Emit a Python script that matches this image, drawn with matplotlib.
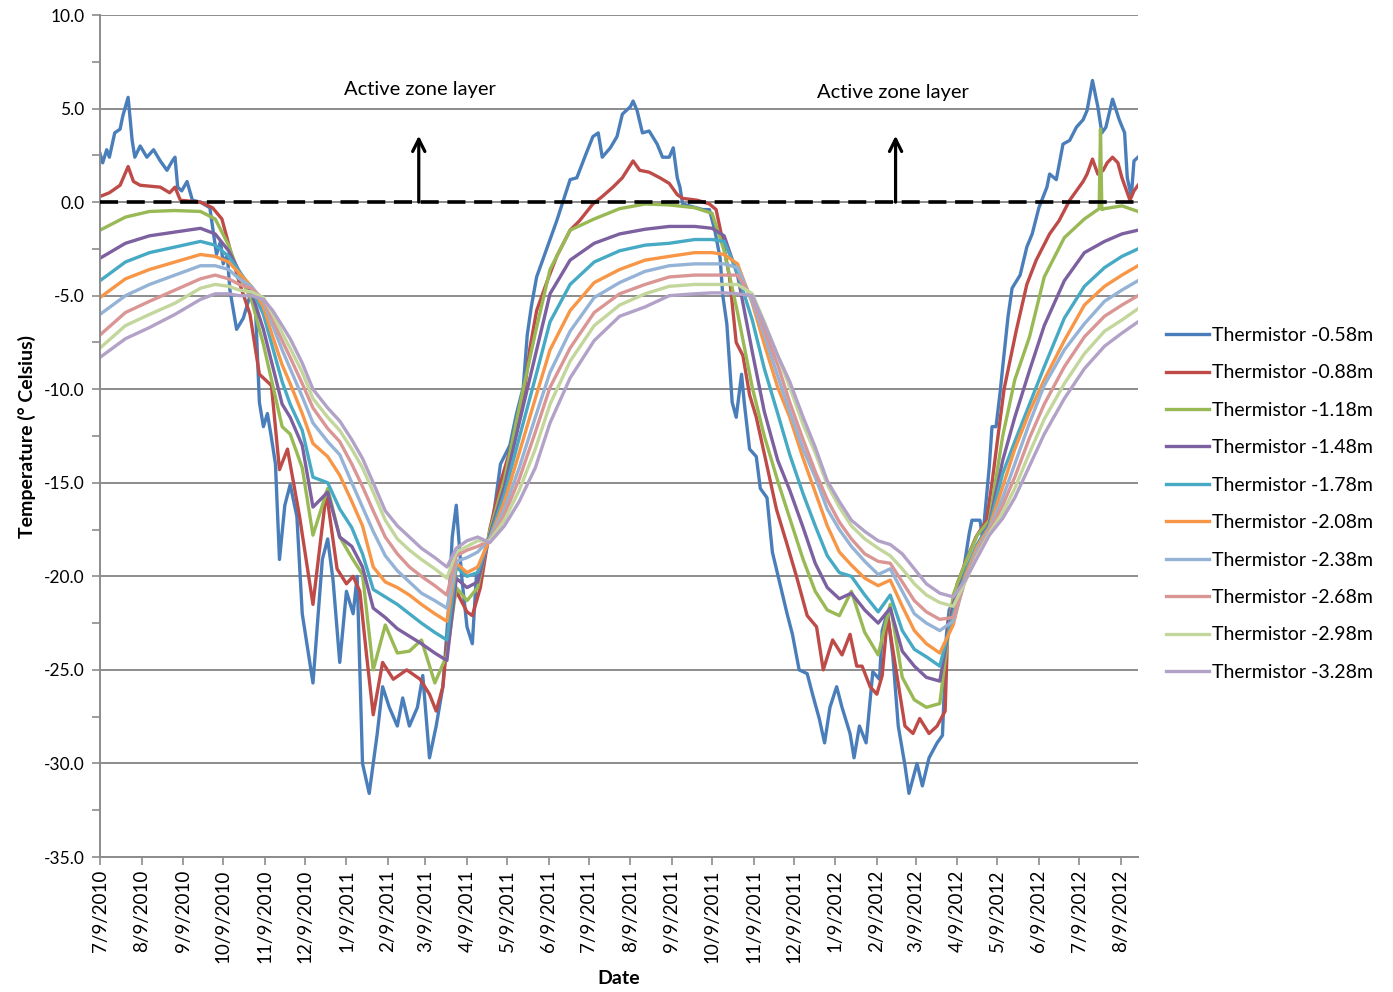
import numpy as np
import pandas as pd
import matplotlib
matplotlib.use("Agg")
import matplotlib.pyplot as plt

plt.rcParams['font.family'] = ['Lato', 'DejaVu Sans']

START = pd.Timestamp("2010-07-09")
END_DAY = 775

# ---- thermistor -0.58m (days since 7/9/2010, deg C) ----
blue_days = [0, 2, 5, 7, 11, 15, 17, 21, 24, 26, 30, 35, 40, 45, 50, 54, 56, 58, 61, 65,
             69, 75, 82, 84, 87, 90, 92, 95, 97, 102, 107, 112, 116, 119, 122, 125, 128, 131,
             134, 138, 142, 147, 151, 159, 164, 166, 170, 174, 179, 184, 189, 192, 196, 201,
             207, 211, 216, 222, 226, 231, 237, 241, 246, 251, 256, 260, 263, 266, 270, 274,
             278, 281, 286, 293, 299, 306, 311, 316, 319, 322, 326, 334, 341, 346, 351, 356,
             363, 368, 372, 375, 381, 386, 390, 396, 398, 401, 405, 410, 416, 420, 425, 428,
             431, 433, 435, 450, 455, 459, 463, 465, 468, 472, 475, 479, 481, 485, 490, 493,
             498, 502, 507, 513, 517, 522, 528, 532, 537, 541, 545, 550, 554, 560, 563, 567,
             572, 577, 582, 584, 588, 592, 596, 601, 604, 610, 614, 619, 625, 629, 632, 634,
             640, 644, 649, 651, 657, 659, 664, 666, 669, 672, 674, 678, 681, 687, 692, 696,
             701, 707, 709, 714, 719, 724, 729, 734, 737, 741, 745, 748, 751, 756, 761, 765,
             767, 770, 772, 775]
blue_vals = [2.6, 2.1, 2.8, 2.4, 3.7, 3.9, 4.6, 5.6, 3.3, 2.4, 3.0, 2.4, 2.8, 2.2, 1.7, 2.2,
             2.4, 0.8, 0.6, 1.1, 0.1, 0.0, -0.3, -1.3, -2.8, -2.1, -3.3, -2.8, -4.7, -6.8, -6.2,
             -5.0, -5.5, -10.7, -12.0, -11.3, -12.6, -14.0, -19.1, -16.2, -15.1, -16.8, -22.0,
             -25.7, -21.0, -19.1, -18.0, -20.2, -24.6, -20.8, -22.0, -20.0, -30.0, -31.6, -28.4,
             -25.9, -27.0, -28.0, -26.5, -28.0, -27.0, -25.3, -29.7, -28.0, -25.9, -22.0, -17.9,
             -16.2, -20.0, -22.7, -23.6, -20.0, -19.0, -17.2, -14.0, -13.0, -11.3, -9.9, -7.1,
             -5.6, -4.0, -2.4, -1.0, 0.1, 1.2, 1.3, 2.6, 3.5, 3.7, 2.4, 2.9, 3.5, 4.7, 5.1, 5.4,
             4.9, 3.7, 3.8, 3.1, 2.4, 2.4, 2.9, 1.3, 0.8, -0.1, -0.4, -0.4, -1.5, -3.0, -5.0,
             -6.5, -10.7, -11.5, -9.2, -10.7, -13.2, -13.6, -15.3, -15.8, -18.7, -20.2, -22.0,
             -23.1, -25.0, -25.2, -26.3, -27.6, -28.9, -27.0, -25.9, -27.0, -28.4, -29.7, -28.0,
             -28.9, -25.1, -25.5, -22.9, -21.9, -24.3, -28.0, -30.1, -31.6, -30.0, -31.2, -29.7,
             -28.9, -28.5, -23.1, -21.8, -21.0, -20.0, -17.7, -17.0, -17.0, -18.0, -14.1, -12.0,
             -12.0, -10.2, -8.8, -6.1, -4.6, -3.9, -2.4, -1.7, -0.3, 0.8, 1.5, 1.2, 3.1, 3.3,
             4.0, 4.4, 4.9, 6.5, 5.1, 3.7, 4.0, 5.5, 4.4, 3.7, 1.3, 0.3, 2.2, 2.4]

# ---- thermistor -0.88m ----
red_days = [0, 7, 15, 21, 25, 30, 45, 52, 56, 60, 75, 84, 91, 97, 104, 112, 119, 128, 134,
            140, 149, 159, 169, 177, 184, 189, 194, 199, 204, 211, 219, 229, 239, 246, 251,
            256, 261, 266, 274, 278, 284, 291, 299, 306, 311, 317, 321, 326, 334, 341, 351,
            358, 368, 375, 383, 390, 398, 403, 410, 418, 425, 431, 435, 446, 455, 460, 465,
            470, 475, 480, 485, 490, 498, 505, 513, 520, 528, 535, 540, 547, 554, 560, 565,
            569, 575, 580, 584, 588, 595, 601, 607, 612, 619, 625, 631, 633, 640, 647, 654,
            662, 666, 675, 684, 692, 699, 709, 716, 724, 729, 734, 737, 741, 745, 749, 752,
            756, 760, 763, 769, 772, 775]
red_vals = [0.3, 0.5, 0.9, 1.9, 1.1, 0.9, 0.8, 0.5, 0.8, 0.1, 0.0, -0.3, -0.9, -2.5, -4.3,
            -6.0, -9.2, -9.8, -14.3, -13.2, -16.8, -21.5, -15.5, -19.6, -20.4, -20.0, -20.8,
            -24.2, -27.4, -24.6, -25.5, -25.0, -25.5, -26.3, -27.2, -25.9, -22.1, -20.8, -21.9,
            -22.1, -20.6, -17.5, -15.0, -13.3, -12.0, -10.0, -7.8, -5.8, -4.2, -2.9, -1.5,
            -1.0, -0.1, 0.3, 0.8, 1.3, 2.2, 1.7, 1.6, 1.3, 1.0, 0.4, 0.2, 0.1, -0.1, -0.4,
            -2.1, -4.0, -7.5, -8.2, -10.3, -11.5, -14.1, -16.4, -18.3, -20.0, -22.1, -22.7,
            -25.0, -23.4, -24.2, -23.1, -24.8, -24.8, -25.9, -26.3, -25.3, -22.1, -25.3, -28.0,
            -28.4, -27.6, -28.4, -28.0, -27.2, -22.7, -20.4, -19.1, -17.9, -17.0, -15.0, -10.0,
            -6.9, -4.4, -3.1, -1.7, -1.0, 0.1, 0.6, 1.1, 1.5, 2.3, 1.5, 1.7, 2.1, 2.4, 2.1,
            1.3, 0.1, 0.6, 0.9]

# ---- deeper thermistors, shared sampling days ----
grid_days = [0, 19, 37, 56, 75, 86, 96, 104, 113, 122, 129, 136, 142, 151, 159, 170, 179,
             188, 196, 204, 213, 222, 231, 240, 250, 259, 266, 274, 282, 291, 302, 313, 325,
             336, 351, 369, 388, 407, 425, 444, 457, 466, 476, 487, 496, 506, 515, 525, 534,
             543, 552, 561, 571, 581, 590, 599, 608, 617, 627, 637, 646, 655, 664, 674, 683,
             694, 705, 720, 735, 750, 763, 775]

green_vals = [-1.5, -0.8, -0.5, -0.45, -0.5, -0.9, -2.3, -3.9, -5.2, -7.6, -9.8, -12.0, -12.4,
              -14.2, -17.8, -15.3, -17.9, -19.0, -19.9, -25.0, -22.6, -24.1, -24.0, -23.4,
              -25.7, -24.2, -20.6, -21.3, -20.6, -17.6, -14.8, -11.0, -7.0, -3.6, -1.5, -0.9,
              -0.35, -0.1, -0.15, -0.3, -0.6, -2.6, -5.9, -9.9, -12.5, -14.9, -16.9, -19.1,
              -20.8, -21.8, -22.1, -20.8, -23.0, -24.2, -21.5, -25.4, -26.6, -27.0, -26.8,
              -21.0, -19.3, -17.8, -17.0, -12.5, -9.5, -7.2, -4.0, -1.9, -0.9, -0.35, -0.2, -0.5]
# short spike in the -1.18m record, July 2012
green_spike_days = [746, 747, 748]
green_spike_vals = [-0.35, 3.9, -0.4]

purple_vals = [-3.0, -2.2, -1.8, -1.6, -1.4, -1.7, -2.6, -3.7, -4.8, -6.8, -8.8, -10.8, -11.5,
               -13.0, -16.3, -15.5, -17.9, -18.4, -19.5, -21.7, -22.2, -22.8, -23.2, -23.6,
               -24.1, -24.5, -20.1, -20.6, -20.3, -17.8, -15.2, -11.8, -8.2, -4.9, -3.1, -2.2,
               -1.7, -1.45, -1.3, -1.3, -1.4, -1.8, -3.9, -8.0, -11.2, -13.8, -15.4, -17.4,
               -19.3, -20.6, -21.2, -20.9, -21.8, -22.5, -21.7, -24.0, -24.8, -25.4, -25.6,
               -21.5, -19.8, -18.3, -17.2, -13.8, -11.5, -9.0, -6.6, -4.2, -2.7, -2.1, -1.7, -1.5]

teal_vals = [-4.2, -3.2, -2.7, -2.4, -2.1, -2.3, -2.9, -3.7, -4.6, -6.0, -7.8, -9.6, -10.8,
             -12.2, -14.7, -15.0, -16.4, -17.4, -18.8, -20.7, -21.1, -21.5, -22.0, -22.5,
             -23.0, -23.4, -19.5, -20.0, -19.8, -17.9, -15.6, -12.6, -9.4, -6.4, -4.4, -3.2,
             -2.6, -2.3, -2.2, -2.0, -2.0, -2.1, -3.8, -6.3, -8.9, -11.3, -13.5, -15.6, -17.3,
             -18.9, -19.8, -20.0, -21.0, -21.9, -21.0, -22.9, -23.9, -24.3, -24.8, -22.0,
             -19.8, -18.3, -17.3, -14.5, -12.8, -10.8, -8.8, -6.2, -4.5, -3.5, -2.9, -2.5]

orange_vals = [-5.1, -4.1, -3.6, -3.2, -2.8, -2.9, -3.2, -3.8, -4.5, -5.6, -7.2, -8.7, -9.7,
               -11.3, -12.9, -13.6, -14.6, -16.0, -17.3, -19.5, -20.3, -20.6, -21.0, -21.5,
               -22.0, -22.4, -19.3, -19.8, -19.5, -18.0, -16.0, -13.4, -10.5, -7.9, -5.8, -4.3,
               -3.6, -3.1, -2.9, -2.7, -2.7, -2.8, -3.3, -5.4, -7.6, -9.9, -11.5, -13.7, -15.5,
               -17.3, -18.7, -19.4, -20.1, -20.5, -20.2, -21.6, -22.9, -23.6, -24.1, -22.6,
               -20.0, -18.4, -17.4, -15.2, -13.2, -11.2, -9.5, -7.4, -5.5, -4.5, -3.9, -3.4]

lblue_vals = [-6.0, -5.0, -4.4, -3.9, -3.4, -3.4, -3.6, -4.1, -4.5, -5.3, -6.6, -7.9, -8.9,
              -10.4, -11.8, -12.8, -13.5, -15.0, -16.3, -17.6, -18.9, -19.7, -20.3, -20.9,
              -21.3, -21.7, -19.2, -19.0, -18.7, -18.0, -16.4, -14.2, -11.5, -9.1, -6.9, -5.1,
              -4.3, -3.7, -3.4, -3.3, -3.3, -3.3, -3.5, -5.3, -7.1, -9.3, -11.2, -13.2, -14.7,
              -16.4, -17.5, -18.4, -19.2, -19.9, -19.6, -20.8, -22.0, -22.5, -22.9, -22.4,
              -20.2, -18.6, -17.5, -15.8, -14.0, -11.8, -9.8, -7.9, -6.5, -5.3, -4.7, -4.2]

pink_vals = [-7.1, -5.9, -5.3, -4.7, -4.1, -3.9, -4.1, -4.4, -4.6, -5.2, -6.3, -7.4, -8.3,
             -9.7, -11.0, -12.1, -12.8, -14.0, -15.2, -16.5, -17.9, -18.8, -19.5, -20.0,
             -20.5, -21.0, -18.9, -18.6, -18.4, -18.1, -16.7, -14.8, -12.3, -9.9, -7.8, -5.9,
             -4.9, -4.4, -4.0, -3.9, -3.9, -3.9, -3.9, -5.1, -6.8, -8.7, -10.7, -12.7, -14.4,
             -15.9, -17.1, -18.0, -18.8, -19.2, -19.3, -20.3, -21.3, -21.9, -22.3, -22.2,
             -20.2, -18.8, -17.6, -16.2, -14.7, -12.6, -10.8, -8.8, -7.2, -6.1, -5.5, -5.0]

lgreen_vals = [-7.8, -6.6, -6.0, -5.4, -4.6, -4.4, -4.5, -4.7, -4.8, -5.1, -6.0, -7.0, -7.8,
               -9.1, -10.5, -11.5, -12.2, -13.2, -14.2, -15.5, -17.0, -18.0, -18.6, -19.1,
               -19.6, -20.1, -18.7, -18.4, -18.1, -18.1, -17.0, -15.4, -13.2, -10.8, -8.5, -6.6,
               -5.5, -4.9, -4.5, -4.4, -4.4, -4.4, -4.4, -4.9, -6.4, -8.2, -9.9, -11.9, -13.4,
               -15.1, -16.3, -17.3, -18.0, -18.5, -18.9, -19.6, -20.4, -21.0, -21.4, -21.6,
               -20.3, -18.9, -17.7, -16.6, -15.3, -13.4, -11.6, -9.7, -8.1, -6.9, -6.3, -5.7]

lav_vals = [-8.3, -7.3, -6.7, -6.0, -5.2, -4.9, -4.9, -5.0, -5.0, -5.2, -5.8, -6.6, -7.3,
            -8.6, -10.0, -11.0, -11.7, -12.7, -13.7, -15.0, -16.5, -17.3, -17.9, -18.5, -19.0,
            -19.5, -18.5, -18.1, -17.9, -18.2, -17.3, -16.0, -14.2, -11.8, -9.4, -7.4, -6.1,
            -5.6, -5.0, -4.9, -4.85, -4.85, -4.9, -5.0, -6.5, -8.2, -9.6, -11.5, -13.1, -14.9,
            -16.0, -17.0, -17.6, -18.1, -18.3, -18.8, -19.6, -20.4, -20.9, -21.1, -20.2,
            -19.0, -17.8, -16.9, -15.8, -14.1, -12.4, -10.5, -8.9, -7.7, -7.0, -6.4]

labels = ["Thermistor -0.58m", "Thermistor -0.88m", "Thermistor -1.18m", "Thermistor -1.48m",
          "Thermistor -1.78m", "Thermistor -2.08m", "Thermistor -2.38m", "Thermistor -2.68m",
          "Thermistor -2.98m", "Thermistor -3.28m"]
colors = ["#4A7EBB", "#BE4B48", "#98B954", "#7D60A0", "#46AAC5", "#F79646",
          "#95B3D7", "#DA9694", "#C3D69B", "#B3A2C7"]

# insert the spike into the -1.18m record
g_days = list(grid_days)
g_vals = list(green_vals)
pos = g_days.index(750)
g_days[pos:pos] = green_spike_days
g_vals[pos:pos] = green_spike_vals

series = [
    (blue_days, blue_vals),
    (red_days, red_vals),
    (g_days, g_vals),
    (grid_days, purple_vals),
    (grid_days, teal_vals),
    (grid_days, orange_vals),
    (grid_days, lblue_vals),
    (grid_days, pink_vals),
    (grid_days, lgreen_vals),
    (grid_days, lav_vals),
]


def to_dates(days):
    return START + pd.to_timedelta(np.array(days), unit="D")


fig = plt.figure(figsize=(13.93, 9.92), dpi=100)
ax = fig.add_axes([100 / 1393, 1 - 857 / 992, (1138 - 100) / 1393, (857 - 15) / 992])

grey = "#8c8c8c"
for (d, v), lab, c in zip(series, labels, colors):
    ax.plot(to_dates(d), v, color=c, lw=2.4, label=lab, solid_joinstyle="round")

# active zone boundary and annotations
ax.axhline(0, color="black", lw=2.6, linestyle=(0, (5, 2.4)), zorder=5)
for day_txt, day_arr, ytxt in [(239, 238, 6.0), (592, 594, 5.85)]:
    ax.text(to_dates([day_txt])[0], ytxt, "Active zone layer", ha="center", va="center",
            fontsize=14.5)
    ax.annotate("", xy=(to_dates([day_arr])[0], 3.55), xytext=(to_dates([day_arr])[0], 0),
                arrowprops=dict(arrowstyle="->", lw=2.3, color="black", mutation_scale=22,
                                shrinkA=0, shrinkB=0), zorder=6)

ax.set_ylim(-35, 10)
ax.set_xlim(START, START + pd.Timedelta(days=END_DAY))
yt = np.arange(-35, 10.1, 5)
ax.set_yticks(yt)
ax.set_yticklabels([f"{v:.1f}" for v in yt], fontsize=12.5)
ax.set_yticks(np.arange(-32.5, 10, 5), minor=True)
ax.yaxis.grid(True, which="major", color=grey, lw=1.4)
ax.set_axisbelow(True)

xt = pd.date_range("2010-07-09", "2012-08-09", freq=pd.DateOffset(months=1))
ax.set_xticks(xt)
ax.set_xticklabels([f"{d.month}/{d.day}/{d.year}" for d in xt], rotation=90, fontsize=13.5)

for s in ["top", "right"]:
    ax.spines[s].set_visible(False)
for s in ["left", "bottom"]:
    ax.spines[s].set_color(grey)
    ax.spines[s].set_linewidth(1.4)
ax.tick_params(axis="both", which="both", direction="out", length=6, color=grey, width=1.2)
ax.tick_params(axis="y", pad=5)
ax.tick_params(axis="x", pad=3)

ax.set_ylabel("Temperature (° Celsius)", fontweight="bold", fontsize=14, labelpad=6)
ax.set_xlabel("Date", fontweight="bold", fontsize=14, labelpad=5)

ax.legend(loc="upper left", bbox_to_anchor=(1166 / 1393, 1 - 327 / 992),
          bbox_transform=fig.transFigure, frameon=False, fontsize=14, handlelength=2.2,
          handletextpad=0.15, labelspacing=1.05, borderaxespad=0, borderpad=0)

fig.savefig("out.png", dpi=100)
